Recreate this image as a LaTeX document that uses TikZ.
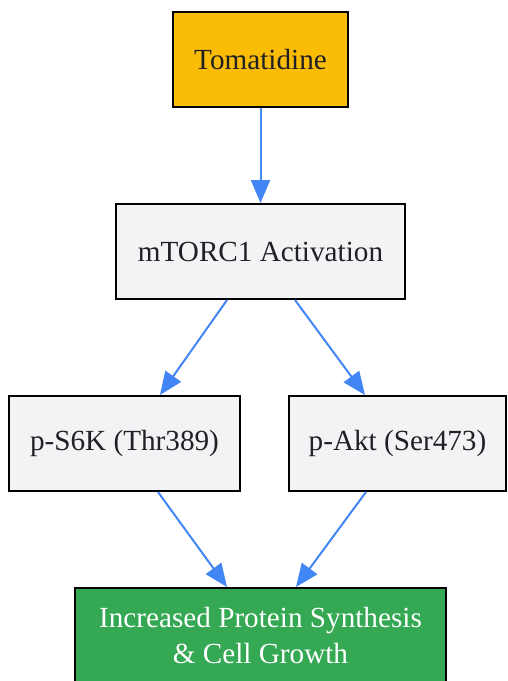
\documentclass[tikz,border=0pt]{standalone}
\usepackage{fontspec}
\setmainfont{Liberation Serif}
\usetikzlibrary{arrows.meta, positioning}

\definecolor{tomorange}{HTML}{FBBC05}
\definecolor{boxgray}{HTML}{F1F3F4}
\definecolor{growgreen}{HTML}{34A853}
\definecolor{edgeblue}{HTML}{4285F4}
\definecolor{textdark}{HTML}{202124}

\tikzset{
  box/.style={draw=black, line width=2pt, rectangle, minimum height=95pt, text=textdark,
    align=center, font=\fontsize{29.2}{36}\selectfont, inner sep=0pt},
  edge/.style={draw=edgeblue, line width=2pt, -{Triangle[length=23pt, width=19pt]}}
}

\begin{document}
\begin{tikzpicture}[x=1pt, y=-1pt]
\useasboundingbox (0,0) rectangle (507,681);

\node[box, fill=tomorange, minimum width=175pt] (tom) at (260.5,59.5) {Tomatidine};
\node[box, fill=boxgray, minimum width=289pt] (mtor) at (260.5,251.5) {mTORC1 Activation};
\node[box, fill=boxgray, minimum width=231pt] (s6k) at (124.5,443.5) {p-S6K (Thr389)};
\node[box, fill=boxgray, minimum width=217pt] (akt) at (397.5,443.5) {p-Akt (Ser473)};
\node[box, fill=growgreen, text=white, minimum width=371pt] (grow) at (260.5,635.5) {Increased Protein Synthesis\\\& Cell Growth};

\draw[edge] (tom.south) -- (mtor.north);
\draw[edge] ([xshift=-33.5pt]mtor.south) -- ([xshift=35.5pt]s6k.north);
\draw[edge] ([xshift=34.5pt]mtor.south) -- ([xshift=-32.5pt]akt.north);
\draw[edge] ([xshift=33.5pt]s6k.south) -- ([xshift=-33.5pt]grow.north);
\draw[edge] ([xshift=-31.5pt]akt.south) -- ([xshift=35.5pt]grow.north);

\end{tikzpicture}
\end{document}
